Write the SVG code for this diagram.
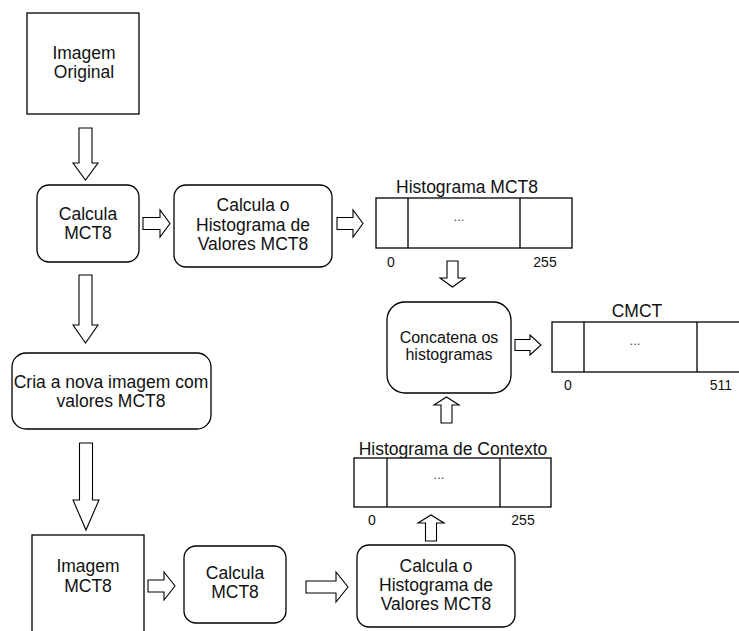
<svg xmlns="http://www.w3.org/2000/svg" width="739" height="631" viewBox="0 0 739 631">
  <style>
    .box { fill: #fff; stroke: #000; stroke-width: 1.3; }
    .arr { fill: #fff; stroke: #000; stroke-width: 1.1; stroke-linejoin: miter; }
    .t { font-family: "Liberation Sans", Arial, sans-serif; font-size: 17.5px; fill: #111; text-anchor: middle; }
    .s { font-size: 16px; }
    .n { font-family: "Liberation Sans", Arial, sans-serif; font-size: 14px; fill: #111; text-anchor: middle; }
    .d { font-family: "Liberation Sans", Arial, sans-serif; font-size: 13px; fill: #444; text-anchor: middle; }
  </style>
  <rect width="739" height="631" fill="#fff"/>

  <g id="imagem-original">
    <rect class="box" x="27" y="13" width="112" height="101"/>
    <text class="t" x="84" y="59">Imagem</text>
    <text class="t" x="84" y="78">Original</text>
  </g>

  <g id="calcula-mct8">
    <rect class="box" x="37" y="185" width="102" height="77" rx="12"/>
    <text class="t" x="88" y="220">Calcula</text>
    <text class="t" x="88" y="239">MCT8</text>
  </g>

  <g id="calcula-histograma">
    <rect class="box" x="174" y="185" width="158" height="82" rx="12"/>
    <text class="t" x="253" y="211">Calcula o</text>
    <text class="t" x="253" y="231">Histograma de</text>
    <text class="t" x="253" y="250">Valores MCT8</text>
  </g>

  <g id="histograma-mct8">
    <text class="t" x="467" y="193">Histograma MCT8</text>
    <rect class="box" x="376" y="198" width="196" height="50"/>
    <line x1="408" y1="198" x2="408" y2="248" stroke="#000" stroke-width="1.3"/>
    <line x1="520" y1="198" x2="520" y2="248" stroke="#000" stroke-width="1.3"/>
    <text class="d" x="459" y="221">...</text>
    <text class="n" x="391" y="267">0</text>
    <text class="n" x="545" y="267">255</text>
  </g>

  <g id="concatena">
    <rect class="box" x="387" y="302" width="124" height="91" rx="18"/>
    <text class="t s" x="449" y="343">Concatena os</text>
    <text class="t s" x="449" y="360">histogramas</text>
  </g>

  <g id="cmct">
    <text class="t" x="637" y="317">CMCT</text>
    <rect class="box" x="552" y="322" width="200" height="50"/>
    <line x1="584" y1="322" x2="584" y2="372" stroke="#000" stroke-width="1.3"/>
    <line x1="697" y1="322" x2="697" y2="372" stroke="#000" stroke-width="1.3"/>
    <text class="d" x="635" y="345">...</text>
    <text class="n" x="568" y="390">0</text>
    <text class="n" x="721" y="390">511</text>
  </g>

  <g id="cria-nova-imagem">
    <rect class="box" x="12" y="353" width="199" height="76" rx="14"/>
    <text class="t" x="111" y="388">Cria a nova imagem com</text>
    <text class="t" x="111" y="407">valores MCT8</text>
  </g>

  <g id="imagem-mct8">
    <rect class="box" x="32" y="535" width="112" height="110"/>
    <text class="t" x="88" y="572">Imagem</text>
    <text class="t" x="88" y="592">MCT8</text>
  </g>

  <g id="calcula-mct8-2">
    <rect class="box" x="184" y="546" width="102" height="77" rx="12"/>
    <text class="t" x="235" y="579">Calcula</text>
    <text class="t" x="235" y="598">MCT8</text>
  </g>

  <g id="histograma-contexto">
    <text class="t" x="453" y="455">Histograma de Contexto</text>
    <rect class="box" x="354" y="458" width="197" height="49"/>
    <line x1="387" y1="458" x2="387" y2="507" stroke="#000" stroke-width="1.3"/>
    <line x1="500" y1="458" x2="500" y2="507" stroke="#000" stroke-width="1.3"/>
    <text class="d" x="439" y="479">...</text>
    <text class="n" x="372" y="525">0</text>
    <text class="n" x="523" y="525">255</text>
  </g>

  <g id="calcula-histograma-2">
    <rect class="box" x="357" y="545" width="158" height="82" rx="12"/>
    <text class="t" x="436" y="572">Calcula o</text>
    <text class="t" x="436" y="591">Histograma de</text>
    <text class="t" x="436" y="610">Valores MCT8</text>
  </g>

  <g id="connectors">
    <!-- downward block arrows -->
    <polygon class="arr" points="79,128 92,128 92,163 98,163 85.5,180 73,163 79,163"/>
    <polygon class="arr" points="79,275 92,275 92,325 98,325 85.5,343 73,325 79,325"/>
    <polygon class="arr" points="79.5,443 92.5,443 92.5,500 99,500 86,530 73,500 79.5,500"/>
    <polygon class="arr" points="447,261 458,261 458,278 465,278 452.5,287 440,278 447,278"/>
    <!-- upward block arrows -->
    <polygon class="arr" points="441,423 452,423 452,405 459,405 446.5,397 434,405 441,405"/>
    <polygon class="arr" points="425.5,541 436.5,541 436.5,523 444,523 431,515 418,523 425.5,523"/>
    <!-- rightward block arrows -->
    <polygon class="arr" points="143,217.5 160,217.5 160,210 170,223.5 160,237 160,229.5 143,229.5"/>
    <polygon class="arr" points="337,217.5 353,217.5 353,210 363,223.5 353,237 353,229.5 337,229.5"/>
    <polygon class="arr" points="515,339.5 530,339.5 530,335 541,345 530,355 530,350.5 515,350.5"/>
    <polygon class="arr" points="148,580 164,580 164,572 175,586 164,600 164,592 148,592"/>
    <polygon class="arr" points="306,581 336,581 336,572 348,587 336,602 336,593 306,593"/>
  </g>
</svg>
